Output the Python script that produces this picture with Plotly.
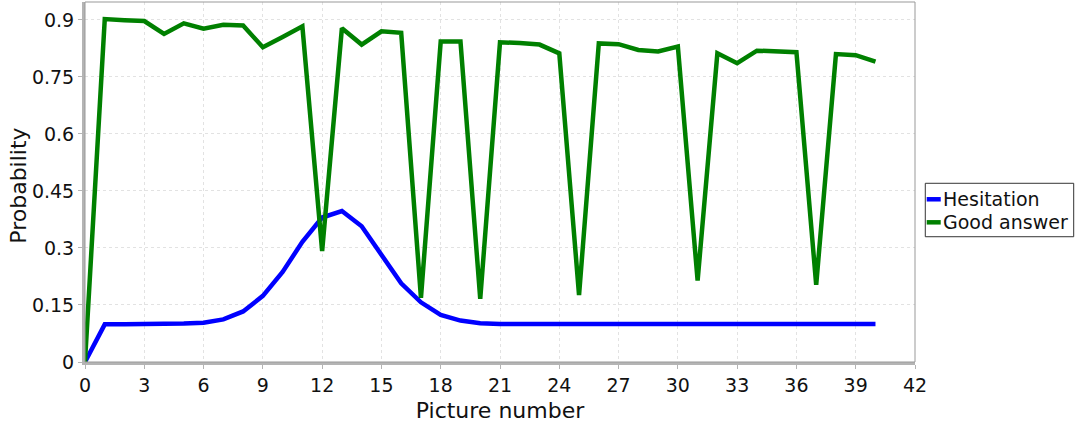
import plotly.graph_objects as go

picture = list(range(41))
hesitation = [0.0, 0.099, 0.099, 0.099, 0.099, 0.101, 0.103, 0.112, 0.133, 0.174, 0.237,
              0.316, 0.380, 0.397, 0.357, 0.282, 0.207, 0.157, 0.124, 0.109, 0.102,
              0.1, 0.1, 0.1, 0.1, 0.1, 0.1, 0.1, 0.1, 0.1, 0.1,
              0.1, 0.1, 0.1, 0.1, 0.1, 0.1, 0.1, 0.1, 0.1, 0.1]
good_answer = [0.0, 0.902, 0.899, 0.897, 0.863, 0.891, 0.877, 0.887, 0.885, 0.828, 0.855,
               0.883, 0.292, 0.878, 0.835, 0.870, 0.866, 0.169, 0.843, 0.843, 0.166,
               0.841, 0.839, 0.835, 0.812, 0.176, 0.838, 0.836, 0.821, 0.817, 0.830,
               0.214, 0.812, 0.786, 0.819, 0.817, 0.815, 0.203, 0.810, 0.807, 0.790]
series_names = ["Hesitation", "Good answer"]
series_colors = ["#0000ff", "#008000"]
x_ticks = list(range(0, 43, 3))
y_ticks = [0, 0.15, 0.3, 0.45, 0.6, 0.75, 0.9]

fig = go.Figure()
for name, vals, col in zip(series_names, [hesitation, good_answer], series_colors):
    fig.add_trace(go.Scatter(x=picture, y=vals, mode="lines", name=name,
                             line=dict(color=col, width=4.5), showlegend=False))

axis_common = dict(showgrid=True, gridcolor="#e2e2e2", griddash="dot", gridwidth=1,
                   showline=True, linecolor="#b4b4b4", linewidth=3, mirror=False,
                   ticks="outside", ticklen=4, tickcolor="#b4b4b4", zeroline=False,
                   automargin=False, tickfont=dict(size=19, color="#111111"))

fig.update_layout(
    width=1079, height=423,
    margin=dict(l=85, r=164, t=2, b=61),
    paper_bgcolor="white", plot_bgcolor="white",
    font=dict(family="DejaVu Sans", color="#111111"),
    xaxis=dict(range=[0, 42], tickvals=x_ticks,
               title=dict(text="Picture number", font=dict(size=22)),
               **axis_common),
    yaxis=dict(range=[0, 0.947], tickvals=y_ticks, **axis_common),
    showlegend=False,
)
fig.add_annotation(xref="paper", yref="paper", x=0, xshift=-66, y=0.4897,
                   text="Probability", textangle=-90, showarrow=False,
                   xanchor="center", yanchor="middle",
                   font=dict(size=22, color="#111111"))
fig.add_shape(type="rect", xref="paper", yref="paper", x0=0, y0=0, x1=1, y1=1,
              line=dict(color="#999999", width=1), layer="above")

# legend box drawn manually (short line samples as in the reference)
fig.add_shape(type="rect", xref="paper", yref="paper", x0=1.0124, x1=1.1912,
              y0=0.348, y1=0.4964, line=dict(color="#333333", width=1),
              fillcolor="white")
leg_y = [0.452, 0.388]
for name, col, yy in zip(series_names, series_colors, leg_y):
    fig.add_shape(type="line", xref="paper", yref="paper", x0=1.0141, x1=1.0310,
                  y0=yy, y1=yy, line=dict(color=col, width=4.5))
    fig.add_annotation(xref="paper", yref="paper", x=1.0334, y=yy, text=name,
                       showarrow=False, xanchor="left", yanchor="middle",
                       font=dict(size=19, color="#111111"), xshift=-2)

fig.write_html("out.html", config={"displayModeBar": False},
               post_script="document.body.style.margin='0';document.body.style.overflow='hidden';")
